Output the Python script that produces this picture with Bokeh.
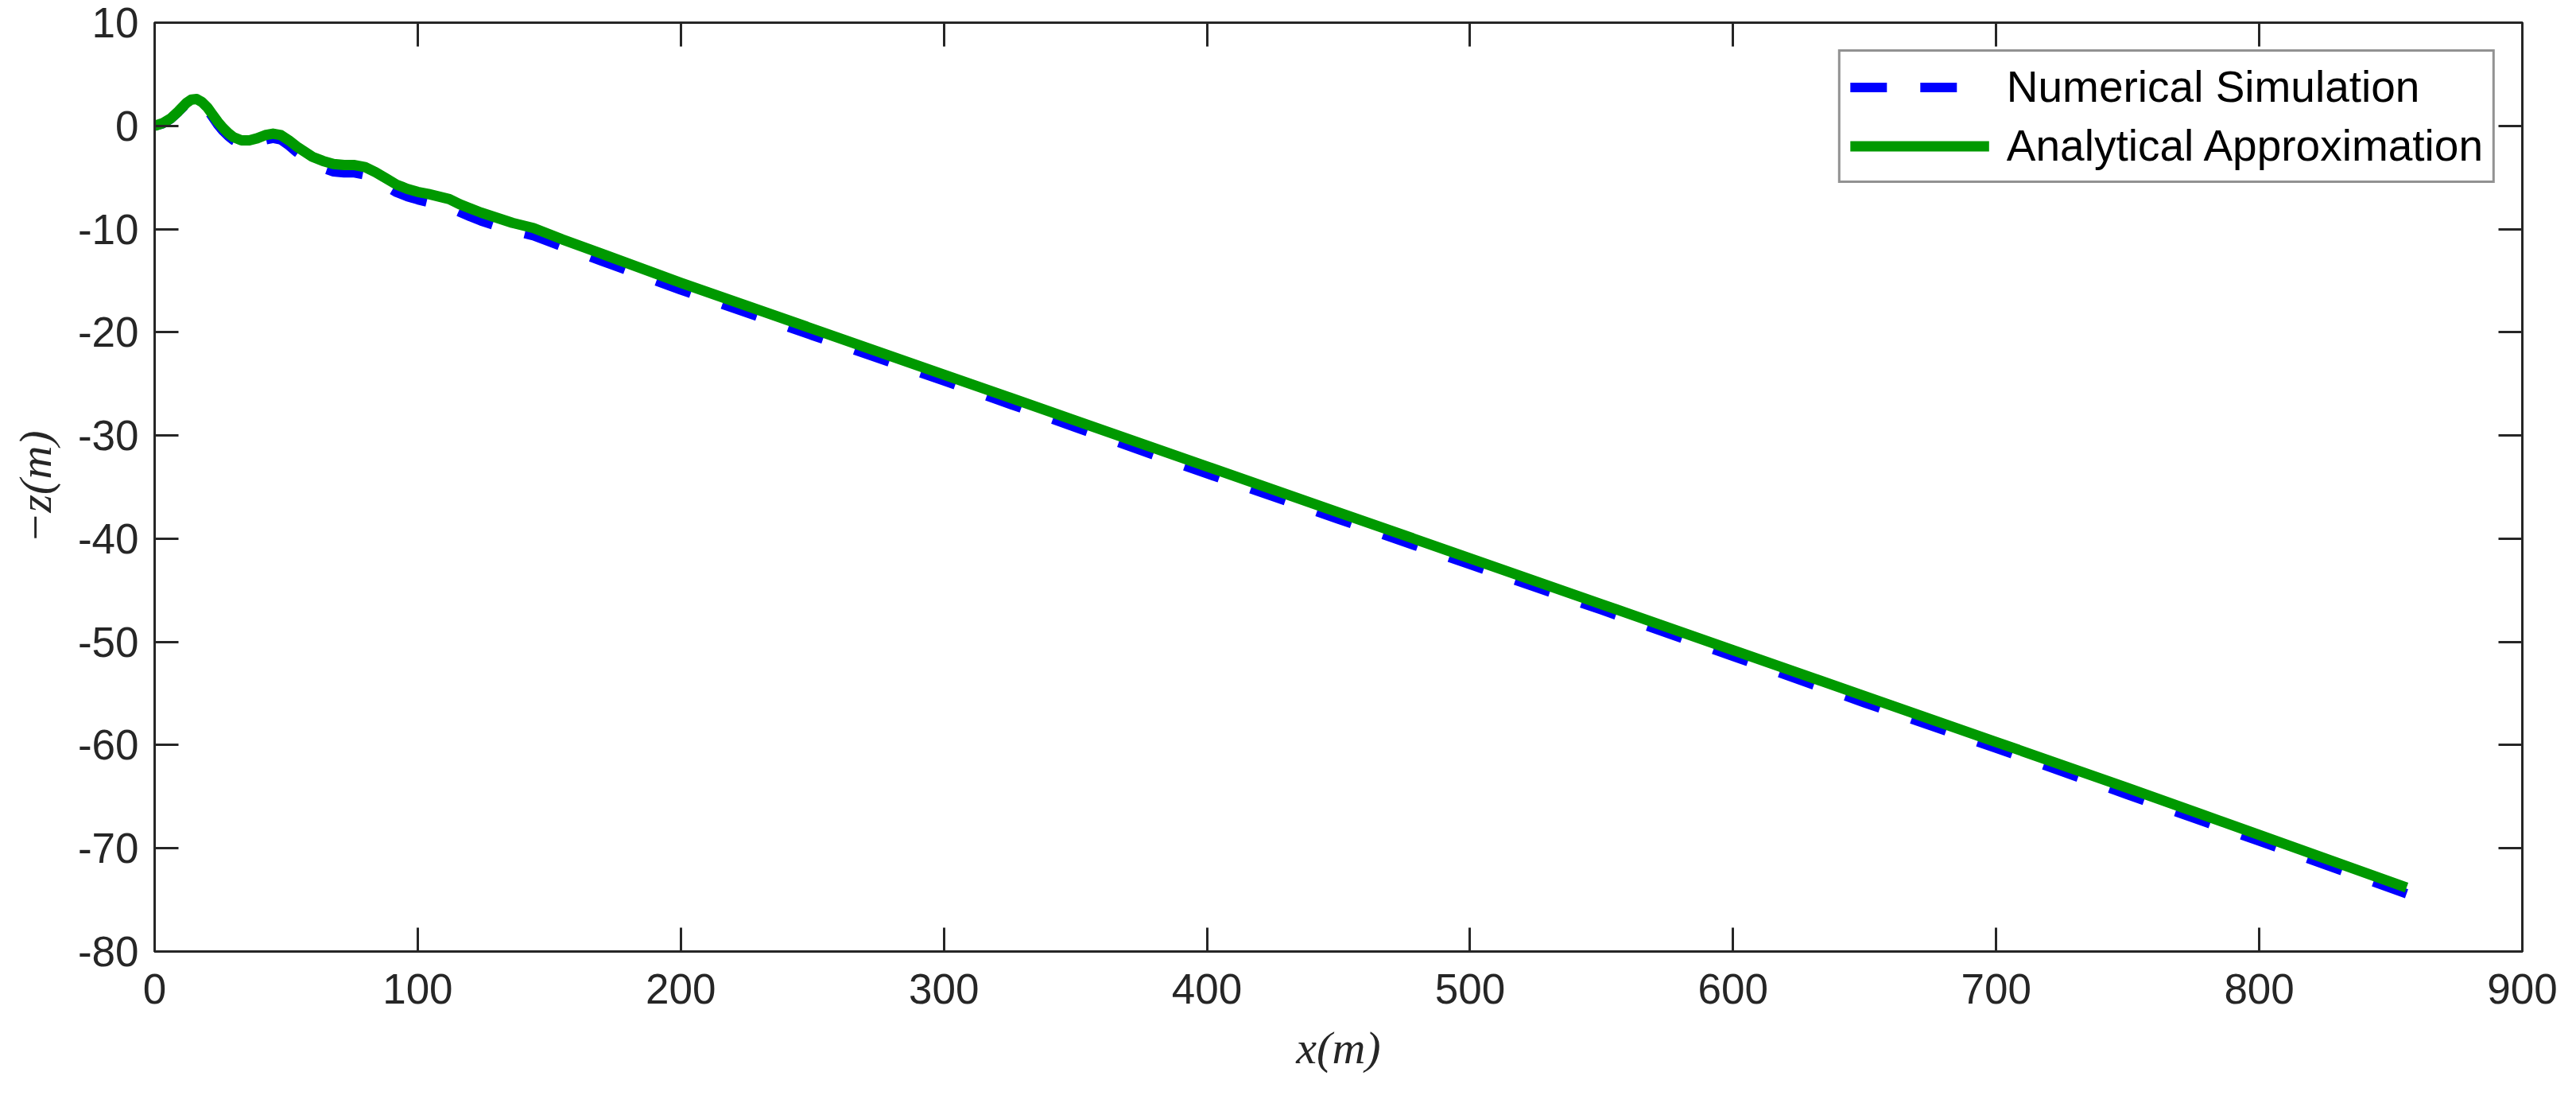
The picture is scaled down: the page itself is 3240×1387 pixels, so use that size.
from bokeh.plotting import figure
from bokeh.models import Range1d, FixedTicker, LinearAxis, Legend, LegendItem
from bokeh.embed import file_html
from bokeh.resources import INLINE

# ---- data ----
x_vals = [0, 3, 6, 9, 12, 14, 16, 18, 20, 22, 24, 26, 28, 30, 33, 36, 39, 42, 45,
          48, 51, 54, 57, 60, 64, 68, 72, 76, 80, 84, 88, 92, 96, 100, 104, 108,
          112, 116, 120, 124, 130, 136, 144, 155, 170, 200, 250, 300, 350, 400,
          450, 500, 550, 600, 650, 700, 750, 800, 856]

numerical = [0.0, 0.2, 0.65, 1.35, 2.1, 2.45, 2.5, 2.15, 1.6, 0.85, 0.1, -0.5, -1.0,
             -1.4, -1.75, -1.8, -1.65, -1.35, -1.2, -1.35, -1.9, -2.55, -3.1, -3.6,
             -4.1, -4.45, -4.55, -4.55, -4.75, -5.25, -5.85, -6.45, -6.85, -7.15,
             -7.4, -7.65, -7.9, -8.35, -8.8, -9.2, -9.7, -10.15, -10.65, -11.7,
             -13.1, -15.9, -20.3, -24.7, -29.2, -33.7, -38.1, -42.5, -46.9, -51.4,
             -55.9, -60.3, -64.8, -69.3, -74.4]

analytical = [0.0, 0.25, 0.7, 1.4, 2.2, 2.55, 2.6, 2.3, 1.8, 1.1, 0.4, -0.2, -0.7,
              -1.1, -1.4, -1.4, -1.2, -0.9, -0.75, -0.9, -1.4, -2.0, -2.5, -3.0,
              -3.4, -3.7, -3.8, -3.8, -4.0, -4.5, -5.1, -5.7, -6.1, -6.4, -6.6,
              -6.85, -7.1, -7.6, -8.0, -8.4, -8.9, -9.4, -9.9, -11.0, -12.4, -15.2,
              -19.65, -24.1, -28.55, -33.0, -37.45, -41.9, -46.35, -50.8, -55.25,
              -59.7, -64.15, -68.7, -73.8]

x_ticks = [0, 100, 200, 300, 400, 500, 600, 700, 800, 900]
x_tick_labels = ["0", "100", "200", "300", "400", "500", "600", "700", "800", "900"]
y_ticks = [10, 0, -10, -20, -30, -40, -50, -60, -70, -80]
y_tick_labels = ["10", "0", "-10", "-20", "-30", "-40", "-50", "-60", "-70", "-80"]

series_names = ["Numerical Simulation", "Analytical Approximation"]
x_label = "x(m)"
y_label = "\u2212z(m)"

AX = "#262626"
TICK_FONT = "'Liberation Sans', Arial, Helvetica, sans-serif"
LABEL_FONT = "'Liberation Serif', 'Times New Roman', serif"

p = figure(width=3224, height=1371, output_backend="svg", toolbar_location=None,
           x_range=Range1d(0, 900), y_range=Range1d(-80, 10),
           min_border_left=194, min_border_right=52, min_border_top=28,
           min_border_bottom=175, x_axis_type=None, y_axis_type=None)
p.background_fill_color = "white"
p.border_fill_color = "white"
p.outline_line_color = AX
p.outline_line_width = 3
p.grid.visible = False

xt = FixedTicker(ticks=x_ticks)
yt = FixedTicker(ticks=y_ticks)


def style(ax, labels):
    ax.axis_line_color = AX
    ax.axis_line_width = 3
    ax.major_tick_line_color = AX
    ax.major_tick_line_width = 3
    ax.major_tick_in = 30
    ax.major_tick_out = 0
    ax.minor_tick_line_color = None
    if labels:
        ax.major_label_text_font = TICK_FONT
        ax.major_label_text_font_size = "53px"
        ax.major_label_text_color = AX
        ax.axis_label_text_font = LABEL_FONT
        ax.axis_label_text_font_style = "italic"
        ax.axis_label_text_font_size = "58px"
        ax.axis_label_text_color = AX
    else:
        # mirror axes (box ticks only, no labels drawn)
        ax.major_label_text_color = None
        ax.major_label_text_font_size = "8px"
        ax.major_label_standoff = 0


xb = LinearAxis(ticker=xt, axis_label=x_label,
                major_label_overrides={t: s for t, s in zip(x_ticks, x_tick_labels)})
style(xb, True)
xb.major_label_standoff = 28
xb.axis_label_standoff = 20
p.add_layout(xb, "below")

yl = LinearAxis(ticker=yt, axis_label=y_label,
                major_label_overrides={t: s for t, s in zip(y_ticks, y_tick_labels)})
style(yl, True)
yl.major_label_standoff = 20
yl.axis_label_standoff = 18
p.add_layout(yl, "left")

xa = LinearAxis(ticker=xt)
style(xa, False)
p.add_layout(xa, "above")

yr = LinearAxis(ticker=yt)
style(yr, False)
p.add_layout(yr, "right")

r_num = p.line(x_vals, numerical, line_color="#0000FF", line_width=12,
               line_dash="46 42")
r_ana = p.line(x_vals, analytical, line_color="#009900", line_width=13,
               line_join="round")

legend = Legend(items=[LegendItem(label=series_names[0], renderers=[r_num]),
                       LegendItem(label=series_names[1], renderers=[r_ana])],
                location="top_right", margin=34, padding=12, spacing=10,
                glyph_width=175, glyph_height=63, label_height=63,
                label_standoff=22,
                label_text_font=TICK_FONT, label_text_font_size="55px",
                label_text_color="black",
                border_line_color=AX, border_line_width=3,
                background_fill_color="white", background_fill_alpha=1.0)
p.add_layout(legend, "center")

open("out.html", "w").write(file_html(p, INLINE))
